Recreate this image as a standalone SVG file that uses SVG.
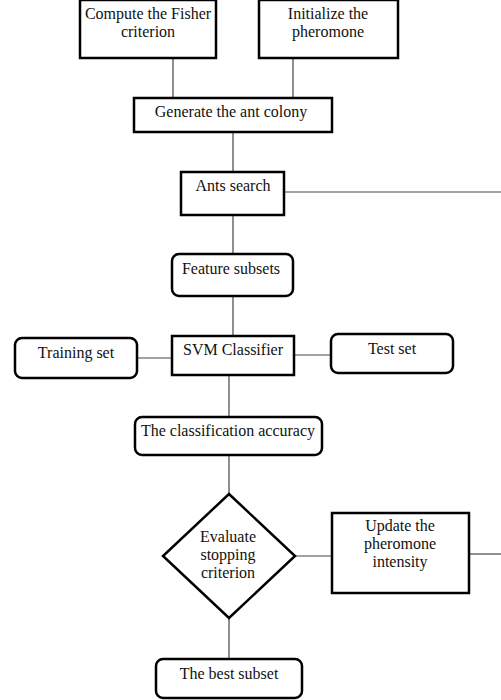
<svg xmlns="http://www.w3.org/2000/svg" width="501" height="700" viewBox="0 0 501 700">
<style>
.b{fill:#fff;stroke:#000;stroke-width:2.5}
.c{stroke:#444;stroke-width:1.2;fill:none}
text{font-family:"Liberation Serif","Times New Roman",serif;font-size:16px;fill:#111;text-anchor:middle}
</style>
<rect width="501" height="700" fill="#fff"/>
<g id="connectors">
<line class="c" x1="173" y1="58" x2="173" y2="98"/>
<line class="c" x1="293" y1="58" x2="293" y2="98"/>
<line class="c" x1="233" y1="132" x2="233" y2="172"/>
<line class="c" x1="284" y1="192" x2="501" y2="192"/>
<line class="c" x1="233" y1="215" x2="233" y2="254"/>
<line class="c" x1="233" y1="296" x2="233" y2="336"/>
<line class="c" x1="137" y1="358" x2="172" y2="358"/>
<line class="c" x1="294" y1="355" x2="331" y2="355"/>
<line class="c" x1="229" y1="375" x2="229" y2="417"/>
<line class="c" x1="229" y1="455" x2="229" y2="494"/>
<line class="c" x1="295" y1="556" x2="332" y2="556"/>
<line class="c" x1="469" y1="554" x2="501" y2="554"/>
<line class="c" x1="229" y1="618" x2="229" y2="659"/>
</g>
<g id="fisher"><rect class="b" x="80" y="0" width="136" height="58"/><text x="148" y="19">Compute the Fisher</text><text x="148" y="37">criterion</text></g>
<g id="init"><rect class="b" x="259" y="0" width="139" height="58"/><text x="328" y="19">Initialize the</text><text x="328" y="37">pheromone</text></g>
<g id="generate"><rect class="b" x="134" y="98" width="198" height="34"/><text x="231" y="117">Generate the ant colony</text></g>
<g id="ants"><rect class="b" x="181" y="172" width="103" height="43"/><text x="233" y="191">Ants search</text></g>
<g id="feature"><rect class="b" x="172" y="254" width="121" height="42" rx="7"/><text x="231" y="274">Feature subsets</text></g>
<g id="svm"><rect class="b" x="172" y="336" width="122" height="39"/><text x="233" y="355">SVM Classifier</text></g>
<g id="training"><rect class="b" x="15" y="338" width="122" height="40" rx="7"/><text x="76" y="358">Training set</text></g>
<g id="test"><rect class="b" x="331" y="334" width="122" height="39" rx="7"/><text x="392" y="354">Test set</text></g>
<g id="accuracy"><rect class="b" x="135" y="417" width="187" height="38" rx="7"/><text x="228" y="436">The classification accuracy</text></g>
<g id="evaluate"><polygon class="b" points="229,494 295,556 229,618 163,556"/><text x="228" y="542">Evaluate</text><text x="228" y="560">stopping</text><text x="228" y="578">criterion</text></g>
<g id="update"><rect class="b" x="332" y="513" width="137" height="80"/><text x="400" y="531">Update the</text><text x="400" y="549">pheromone</text><text x="400" y="567">intensity</text></g>
<g id="best"><rect class="b" x="156" y="659" width="146" height="39" rx="7"/><text x="229" y="679">The best subset</text></g>
</svg>
